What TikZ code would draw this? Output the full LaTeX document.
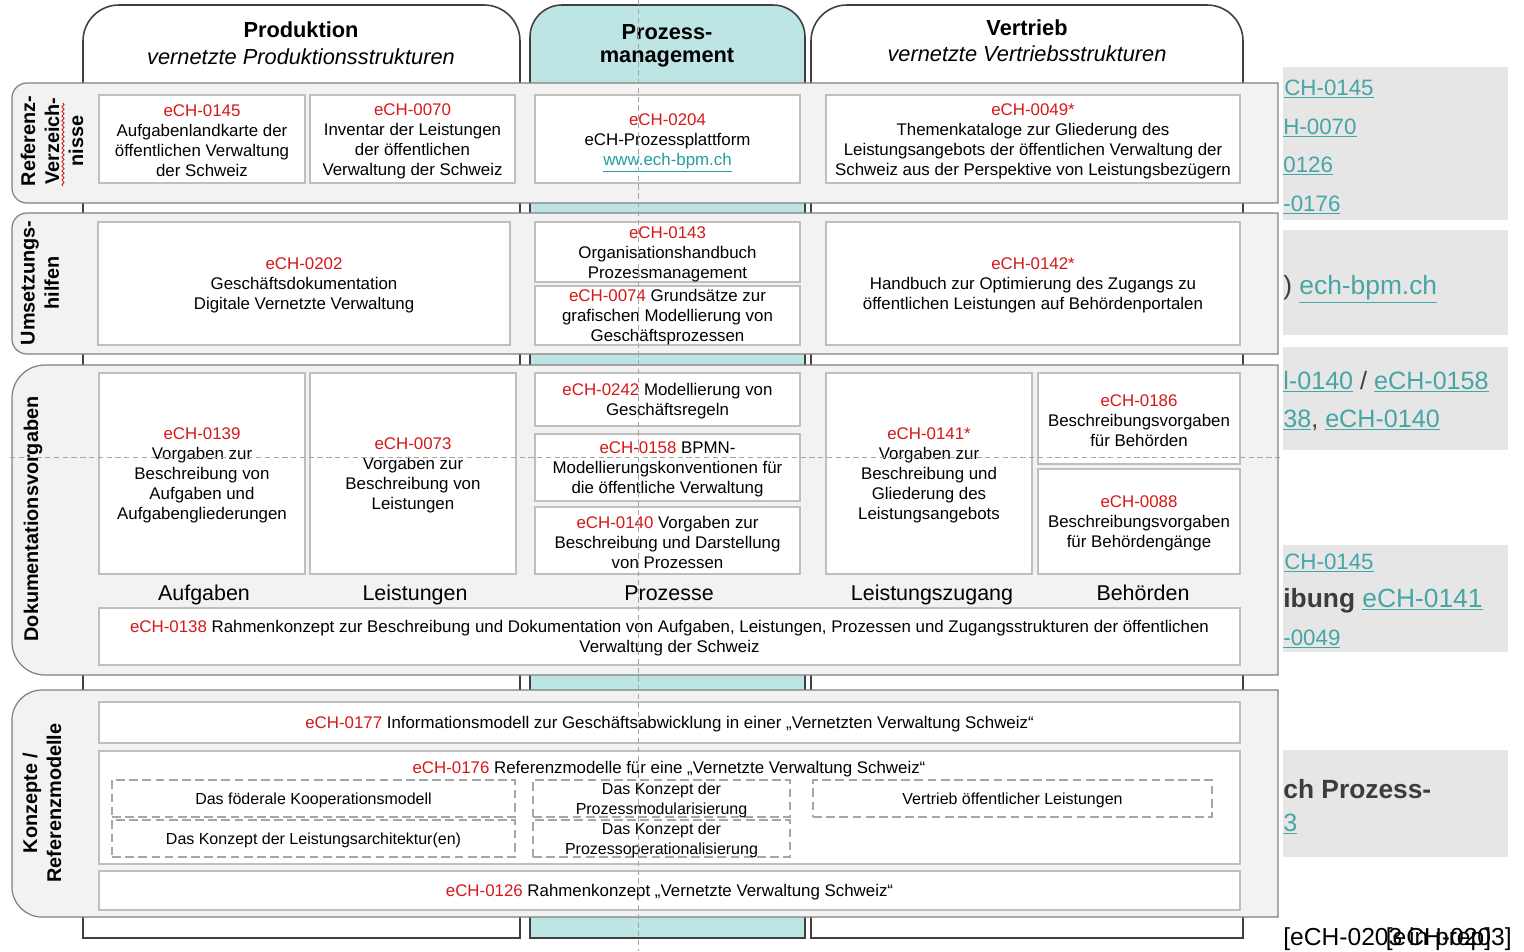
\documentclass[tikz,border=0pt]{standalone}
\usepackage{fontspec}
\setmainfont{Liberation Sans}
\usetikzlibrary{fit,decorations.pathmorphing}
\definecolor{echred}{RGB}{214,24,24}
\definecolor{lnkteal}{RGB}{32,160,160}
\definecolor{plnk}{RGB}{70,165,165}
\definecolor{tealfill}{RGB}{189,229,227}
\definecolor{colline}{RGB}{64,64,64}
\definecolor{bandfill}{RGB}{242,242,242}
\definecolor{bandline}{RGB}{128,128,128}
\definecolor{boxline}{RGB}{191,191,191}
\definecolor{dashline}{RGB}{166,166,166}
\definecolor{guide}{RGB}{165,165,165}
\definecolor{panelfill}{RGB}{230,230,230}
\definecolor{pdark}{RGB}{60,60,60}
\newcommand\ech[1]{\textcolor{echred}{#1}}
\newcommand\lnk[1]{\textcolor{lnkteal}{\underline{#1}}}
\newcommand\plk[1]{\textcolor{plnk}{\underline{#1}}}
\newcommand\fntBox{\fontsize{9.6}{11.4}\selectfont}
\newcommand\fntDash{\fontsize{9.1}{11.4}\selectfont}
\newcommand\fntRow{\fontsize{11.3}{13.7}\selectfont\bfseries}
\newcommand\fntCol{\fontsize{12.2}{14}\selectfont}
\newcommand\fntHead{\fontsize{12.4}{14.5}\selectfont}
\newcommand\fntPanA{\fontsize{12.7}{14}\selectfont}
\newcommand\fntPanB{\fontsize{14.3}{16}\selectfont}
\newcommand\fntPanC{\fontsize{15}{17}\selectfont}
\newcommand\coltab[4]{\draw[coltab,fill=#4] (#1,938) -- (#1,{5+#3}) arc[start angle=180,end angle=90,radius=#3*0.02cm] -- ({#2-#3},5) arc[start angle=90,end angle=0,radius=#3*0.02cm] -- (#2,938) -- cycle;}
\newcommand\band[3]{\draw[bandst] (1278,#1) -- ({12+#3},#1) arc[start angle=90,end angle=180,radius=#3*0.02cm] -- (12,{#2-#3}) arc[start angle=180,end angle=270,radius=#3*0.02cm] -- (1278,#2) -- cycle;}
\newcommand\bx[6]{\node[bx,fit={(#2,#3) (#4,#5)}] (#1) {}; \node[btxt,font=\fntBox] (#1t) at (#1.center) {#6};}
\newcommand\dbx[6]{\node[dbx,fit={(#2,#3) (#4,#5)}] (#1) {}; \node[btxt,font=\fntDash] (#1t) at (#1.center) {#6};}
\begin{document}
\begin{tikzpicture}[x=0.02cm,y=-0.02cm,
  coltab/.style={draw=colline,line width=0.9pt},
  bandst/.style={draw=bandline,fill=bandfill,line width=0.7pt},
  bx/.style={draw=boxline,fill=white,line width=0.8pt,inner sep=0pt},
  dbx/.style={draw=dashline,dash pattern=on 5pt off 2.5pt,line width=1.1pt,inner sep=0pt},
  btxt/.style={inner sep=0pt,align=center,yshift=-0.04cm},
  rowlbl/.style={rotate=90,align=center,font=\fntRow},
  collbl/.style={anchor=base,font=\fntCol},
  hdb/.style={font={\fntHead\bfseries}},
  hdi/.style={font={\fntHead\itshape}},
  guideline/.style={draw=guide,dash pattern=on 3pt off 2pt,line width=0.5pt},
  ptxt/.style={anchor=base west,inner sep=0pt,font=\fntPanB},
  ptxta/.style={anchor=base west,inner sep=0pt,font=\fntPanA},
  ptxtc/.style={anchor=base west,inner sep=0pt,font=\fntPanC},
]
\useasboundingbox (0,0) rectangle (1524,951);
\fill[white] (0,0) rectangle (1524,951);

% columns
\coltab{83}{520}{36}{white}
\coltab{530}{805}{32}{tealfill}
\coltab{811}{1243}{36}{white}
\node[hdb] (hProd) at (301,30) {Produktion};
\node[hdi] (hProdS) at (301,57) {vernetzte Produktionsstrukturen};
\node[hdb] (hProz) at (667,32) {Prozess-};
\node[hdb] (hProzS) at (667,58) {management};
\node[hdb] (hVert) at (1027,28) {Vertrieb};
\node[hdi] (hVertS) at (1027,54) {vernetzte Vertriebsstrukturen};

% bands
\band{83}{203}{15}
\band{213}{354}{15}
\band{365}{675}{33}
\band{690}{917}{30}

% row labels
\node[rowlbl] (lRef) at (52,141) {Referenz-\\Verzeich-\\nisse};
\draw[echred,line width=0.5pt,decorate,decoration={snake,amplitude=0.6pt,segment length=2.6pt}] (63,186) -- (63,103);
\node[rowlbl] (lUms) at (40,283) {Umsetzungs-\\hilfen};
\node[rowlbl] (lDok) at (33,519) {Dokumentationsvorgaben};
\node[rowlbl] (lKon) at (42,803) {Konzepte /\\Referenzmodelle};

% band 1
\bx{b0145}{99}{95}{305}{183}{\ech{eCH-0145}\\Aufgabenlandkarte der\\öffentlichen Verwaltung\\der Schweiz}
\bx{b0070}{310}{95}{515}{183}{\ech{eCH-0070}\\Inventar der Leistungen\\der öffentlichen\\Verwaltung der Schweiz}
\node[bx,fit={(535,95) (800,183)}] (b0204) {};
\node[btxt,font=\fntBox,yshift=-0.04cm] (b0204t) at (b0204.center) {\ech{eCH-0204}\\eCH-Prozessplattform\\\lnk{www.ech-bpm.ch}};
\bx{b0049}{826}{95}{1240}{183}{\ech{eCH-0049*}\\Themenkataloge zur Gliederung des\\Leistungsangebots der öffentlichen Verwaltung der\\Schweiz aus der Perspektive von Leistungsbezügern}

% band 2
\bx{b0202}{98}{222}{510}{345}{\ech{eCH-0202}\\Geschäftsdokumentation\\Digitale Vernetzte Verwaltung}
\bx{b0143}{535}{222}{800}{282}{\ech{eCH-0143}\\Organisationshandbuch\\Prozessmanagement}
\bx{b0074}{535}{286}{800}{345}{\ech{eCH-0074} Grundsätze zur\\grafischen Modellierung von\\Geschäftsprozessen}
\bx{b0142}{826}{222}{1240}{345}{\ech{eCH-0142*}\\Handbuch zur Optimierung des Zugangs zu\\öffentlichen Leistungen auf Behördenportalen}

% band 3
\bx{b0139}{99}{373}{305}{574}{\ech{eCH-0139}\\Vorgaben zur\\Beschreibung von\\Aufgaben und\\Aufgabengliederungen}
\bx{b0073}{310}{373}{516}{574}{\ech{eCH-0073}\\Vorgaben zur\\Beschreibung von\\Leistungen}
\bx{b0242}{535}{373}{800}{426}{\ech{eCH-0242} Modellierung von\\Geschäftsregeln}
\bx{b0158}{535}{434}{800}{501}{\ech{eCH-0158} BPMN-\\Modellierungskonventionen für\\die öffentliche Verwaltung}
\bx{b0140}{535}{507}{800}{574}{\ech{eCH-0140} Vorgaben zur\\Beschreibung und Darstellung\\von Prozessen}
\bx{b0141}{826}{373}{1032}{574}{\ech{eCH-0141*}\\Vorgaben zur\\Beschreibung und\\Gliederung des\\Leistungsangebots}
\bx{b0186}{1038}{373}{1240}{464}{\ech{eCH-0186}\\Beschreibungsvorgaben\\für Behörden}
\bx{b0088}{1038}{469}{1240}{574}{\ech{eCH-0088}\\Beschreibungsvorgaben\\für Behördengänge}
\node[collbl] (cAuf) at (204,600) {Aufgaben};
\node[collbl] (cLei) at (415,600) {Leistungen};
\node[collbl] (cPro) at (669,600) {Prozesse};
\node[collbl] (cZug) at (932,600) {Leistungszugang};
\node[collbl] (cBeh) at (1143,600) {Behörden};
\bx{b0138}{99}{608}{1240}{665}{\ech{eCH-0138} Rahmenkonzept zur Beschreibung und Dokumentation von Aufgaben, Leistungen, Prozessen und Zugangsstrukturen der öffentlichen\\Verwaltung der Schweiz}

% band 4
\bx{b0177}{99}{702}{1240}{743}{\ech{eCH-0177} Informationsmodell zur Geschäftsabwicklung in einer „Vernetzten Verwaltung Schweiz“}
\node[bx,fit={(99,751) (1240,864)}] (b0176) {};
\node[btxt,font=\fntBox] (t0176) at (669,767) {\ech{eCH-0176} Referenzmodelle für eine „Vernetzte Verwaltung Schweiz“};
\dbx{d1}{112}{780}{515}{817}{Das föderale Kooperationsmodell}
\dbx{d2}{112}{820}{515}{857}{Das Konzept der Leistungsarchitektur(en)}
\dbx{d3}{533}{780}{790}{817}{Das Konzept der\\Prozessmodularisierung}
\dbx{d4}{533}{820}{790}{857}{Das Konzept der\\Prozessoperationalisierung}
\dbx{d5}{813}{780}{1212}{817}{Vertrieb öffentlicher Leistungen}
\bx{b0126}{99}{871}{1240}{910}{\ech{eCH-0126} Rahmenkonzept „Vernetzte Verwaltung Schweiz“}

% guides
\draw[guideline] (638,0) -- (638,951);
\draw[guideline] (10,457) -- (1280,457);

% right-side panels (cut off)
\begin{scope}
\clip (1283,0) rectangle (1524,951);
\fill[panelfill] (1283,67) rectangle (1508,220);
\fill[panelfill] (1283,230) rectangle (1508,335);
\fill[panelfill] (1283,347) rectangle (1508,450);
\fill[panelfill] (1283,545) rectangle (1508,652);
\fill[panelfill] (1283,750) rectangle (1508,857);
\node[ptxta] (pA1) at (1284,95) {\plk{CH-0145}};
\node[ptxta] (pA2) at (1283,134) {\plk{H-0070}};
\node[ptxta] (pA3) at (1283,172) {\plk{0126}};
\node[ptxta] (pA4) at (1283,211) {\plk{-0176}};
\node[ptxtc] (pB1) at (1283,294) {\textcolor{pdark}{)} \plk{ech-bpm.ch}};
\node[ptxt] (pC1) at (1283,389) {\textcolor{plnk}{\underline{l-0140}}\ \textcolor{pdark}{/}\ \plk{eCH-0158}};
\node[ptxt] (pC2) at (1283,427) {\plk{38}\textcolor{pdark}{,} \plk{eCH-0140}};
\node[ptxta] (pD1) at (1284,569) {\plk{CH-0145}};
\node[ptxtc] (pD2) at (1283,607) {\textcolor{pdark}{\bfseries ibung} \plk{eCH-0141}};
\node[ptxta] (pD3) at (1283,645) {\plk{-0049}};
\node[ptxtc] (pE1) at (1283,798) {\textcolor{pdark}{\bfseries ch Prozess-}};
\node[ptxt] (pE2) at (1283,831) {\plk{3}};
\end{scope}

% reference texts
\node[anchor=base west,inner sep=0pt,font=\fontsize{14}{16}\selectfont] (ref1) at (1283,945) {[eCH-0203 in prep]};
\node[anchor=base east,inner sep=0pt,font=\fontsize{14}{16}\selectfont] (ref2) at (1512,945) {[eCH-0203]};
\end{tikzpicture}
\end{document}
